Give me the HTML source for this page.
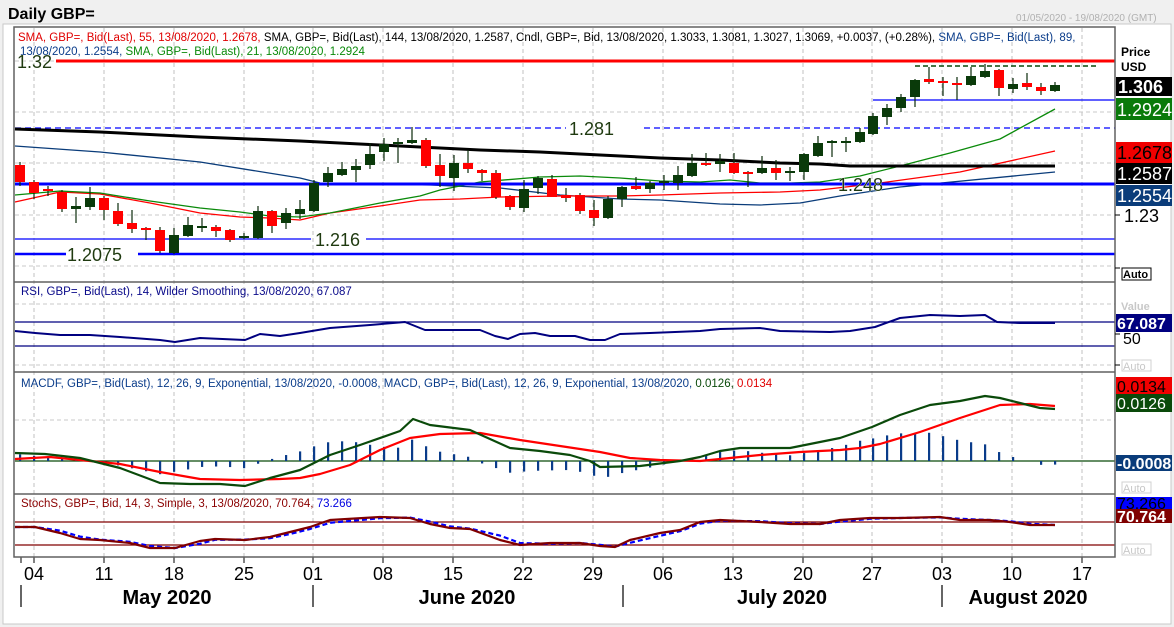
<!DOCTYPE html>
<html><head><meta charset="utf-8"><style>
html,body{margin:0;padding:0;background:#fff;}
svg{display:block;font-family:"Liberation Sans",sans-serif;}
</style></head><body>
<svg id="s" width="1174" height="627" viewBox="0 0 1174 627" xmlns="http://www.w3.org/2000/svg">
<rect x="0" y="0" width="1174" height="627" fill="#f0f0f0"/>
<rect x="3" y="24" width="1168" height="600" fill="#fff" stroke="#c8c8c8"/>
<text x="8" y="19" font-size="16" font-weight="bold" fill="#000">Daily GBP=</text>
<text x="1016" y="21" font-size="10" fill="#b0b0b0">01/05/2020 - 19/08/2020 (GMT)</text>
<g id="grid"></g>
<g id="plot"></g>
<!-- panel frames -->
<g fill="none" stroke="#606060" stroke-width="1.5">
<rect x="14" y="27" width="1101" height="530"/>
<line x1="14" y1="282" x2="1115" y2="282"/>
<line x1="14" y1="372" x2="1115" y2="372"/>
<line x1="14" y1="494" x2="1115" y2="494"/>
</g>
<text font-size="11.5" y="41" x="18"><tspan fill="#e00000">SMA, GBP=, Bid(Last),  55, 13/08/2020, 1.2678, </tspan><tspan fill="#000">SMA, GBP=, Bid(Last),  144, 13/08/2020, 1.2587, Cndl, GBP=, Bid, 13/08/2020, 1.3033, 1.3081, 1.3027, 1.3069, +0.0037, (+0.28%), </tspan><tspan fill="#0a3c8a">SMA, GBP=, Bid(Last), 89,</tspan></text>
<text font-size="11.5" y="55" x="20"><tspan fill="#0a3c8a">13/08/2020, 1.2554, </tspan><tspan fill="#0a8a0a">SMA, GBP=, Bid(Last),  21, 13/08/2020, 1.2924</tspan></text>
<text font-size="11.5" y="295" x="21" fill="#0a0a8a">RSI, GBP=, Bid(Last),  14, Wilder Smoothing, 13/08/2020, 67.087</text>
<text font-size="11.5" y="387" x="21"><tspan fill="#0a3c8a">MACDF, GBP=, Bid(Last),  12, 26, 9, Exponential, 13/08/2020, -0.0008, MACD, GBP=, Bid(Last),  12, 26, 9, Exponential, 13/08/2020, </tspan><tspan fill="#0a4a0a">0.0126, </tspan><tspan fill="#e00000">0.0134</tspan></text>
<text font-size="11.5" y="507" x="21"><tspan fill="#8a0000">StochS, GBP=, Bid,  14, 3, Simple, 3, 13/08/2020, 70.764, </tspan><tspan fill="#0000e0">73.266</tspan></text>
<!-- price labels on chart -->
<g font-size="18" fill="#1f3a10" stroke="#fff" stroke-width="0.6" paint-order="stroke">
<text x="17" y="68">1.32</text>
<text x="569" y="135">1.281</text>
<text x="838" y="191">1.248</text>
<text x="315" y="246">1.216</text>
<text x="67" y="261">1.2075</text>
</g>
<!-- right axis -->
<g font-family="Liberation Sans" >
<text x="1121" y="56" font-size="12" font-weight="bold">Price</text>
<text x="1121" y="71" font-size="12" font-weight="bold">USD</text>
<rect x="1116" y="77" width="56" height="19" fill="#000"/><text x="1118" y="93" font-size="18" font-weight="bold" fill="#fff">1.306</text>
<rect x="1116" y="98" width="56" height="22" fill="#0a7a0a"/><text x="1117" y="116" font-size="18" fill="#fff">1.2924</text>
<rect x="1116" y="142" width="56" height="21" fill="#f00000"/><text x="1117" y="159" font-size="18" fill="#000">1.2678</text>
<rect x="1116" y="163" width="56" height="21" fill="#000"/><text x="1117" y="180" font-size="18" fill="#fff">1.2587</text>
<rect x="1116" y="185" width="56" height="21" fill="#0a3c7a"/><text x="1117" y="202" font-size="18" fill="#fff">1.2554</text>
<line x1="1115" y1="215" x2="1120" y2="215" stroke="#000"/><text x="1124" y="222" font-size="18">1.23</text>
<line x1="1115" y1="268" x2="1120" y2="268" stroke="#000"/>
<rect x="1122" y="268" width="29" height="12" fill="#fff" stroke="#000"/><text x="1123" y="278" font-size="11" font-weight="bold">Auto</text>
<text x="1121" y="310" font-size="11" font-weight="bold" fill="#c8c8c8">Value</text>
<rect x="1116" y="314" width="56" height="18" fill="#000080"/><text x="1117" y="329" font-size="16" font-weight="bold" fill="#fff">67.087</text>
<line x1="1115" y1="334" x2="1120" y2="334" stroke="#000"/><text x="1123" y="344" font-size="16">50</text>
<line x1="1115" y1="365" x2="1120" y2="365" stroke="#000"/>
<rect x="1122" y="360" width="29" height="11" fill="#fff" stroke="#d0d0d0"/><text x="1123" y="370" font-size="11" fill="#c8c8c8">Auto</text>
<rect x="1116" y="377" width="56" height="17" fill="#f00000"/><text x="1117" y="392" font-size="16" fill="#000">0.0134</text>
<rect x="1116" y="394" width="56" height="18" fill="#0a4a0a"/><text x="1117" y="409" font-size="16" fill="#fff">0.0126</text>
<rect x="1116" y="455" width="56" height="16" fill="#0a3c7a"/><text x="1117" y="469" font-size="16" font-weight="bold" fill="#fff">-0.0008</text>
<rect x="1122" y="482" width="29" height="11" fill="#fff" stroke="#d0d0d0"/><text x="1123" y="492" font-size="11" fill="#c8c8c8">Auto</text>
<rect x="1116" y="497" width="56" height="12" fill="#0000ff"/><text x="1117" y="509" font-size="16" fill="#000">73.266</text>
<rect x="1116" y="509" width="56" height="14" fill="#800000"/><text x="1117" y="522" font-size="16" font-weight="bold" fill="#fff">70.764</text>
<rect x="1122" y="544" width="29" height="11" fill="#fff" stroke="#d0d0d0"/><text x="1123" y="554" font-size="11" fill="#c8c8c8">Auto</text>
</g>
<!-- date axis -->
<g font-size="18" fill="#000" text-anchor="middle">
<text x="34" y="580">04</text><text x="104" y="580">11</text><text x="174" y="580">18</text><text x="244" y="580">25</text>
<text x="313" y="580">01</text><text x="383" y="580">08</text><text x="453" y="580">15</text><text x="523" y="580">22</text>
<text x="593" y="580">29</text><text x="663" y="580">06</text><text x="733" y="580">13</text><text x="803" y="580">20</text>
<text x="872" y="580">27</text><text x="942" y="580">03</text><text x="1012" y="580">10</text><text x="1082" y="580">17</text>
</g>
<g font-size="20" font-weight="bold" fill="#000" text-anchor="middle">
<text x="167" y="604">May 2020</text><text x="467" y="604">June 2020</text><text x="782" y="604">July 2020</text><text x="1028" y="604">August 2020</text>
</g>
<g stroke="#000" stroke-width="1.2">
<line x1="21" y1="585" x2="21" y2="607"/><line x1="313" y1="585" x2="313" y2="607"/><line x1="623" y1="585" x2="623" y2="607"/><line x1="942" y1="585" x2="942" y2="607"/>
</g>
</svg>
<script>
const NS="http://www.w3.org/2000/svg";
const plot=document.getElementById('plot'),grid=document.getElementById('grid');
function el(p,t,a){const e=document.createElementNS(NS,t);for(const k in a)e.setAttribute(k,a[k]);p.appendChild(e);return e;}
function line(p,x1,y1,x2,y2,c,w,d){const a={x1,y1,x2,y2,stroke:c,'stroke-width':w||1};if(d)a['stroke-dasharray']=d;return el(p,'line',a);}
function poly(pts,c,w,d){const a={points:pts.map(q=>q.join(',')).join(' '),fill:'none',stroke:c,'stroke-width':w||1,'stroke-linejoin':'round'};if(d)a['stroke-dasharray']=d;el(plot,'polyline',a);}
// grid
const gx=[34,104,174,244,313,383,453,523,593,663,733,803,872,942,1012,1082];
gx.forEach(x=>line(grid,x,28,x,557,'#c0c0c0',1,'4,3'));
[61,112,163,215,266,304,365,420].forEach(y=>line(grid,15,y,1115,y,'#c8c8c8',1,'4,3'));
gx.concat([21]).forEach(x=>line(grid,x,557,x,563,'#000',1));
// main horizontal lines
line(plot,56,61,1115,61,'#ff0000',3);
line(plot,915,66,1096,66,'#0a4a0a',1.5,'5,3');
line(plot,873,100,1115,100,'#0000ff',1.2);
line(plot,15,128,566,128,'#0000ff',1.2,'6,4');line(plot,644,128,1115,128,'#0000ff',1.2,'6,4');
line(plot,15,239,311,239,'#0000ff',1.2);line(plot,366,239,1115,239,'#0000ff',1.2);
line(plot,15,254,66,254,'#0000ff',2.5);line(plot,138,254,1115,254,'#0000ff',2.5);
// MAs
poly([[15,146],[100,152],[200,162],[300,178],[320,183],[370,184],[430,185],[500,188],[560,195],[620,199],[660,200],[720,204],[760,205],[800,203],[840,196],[900,187],[1055,172]],'#0a3c7a',1.3);
poly([[15,202],[60,192],[100,194],[150,203],[200,213],[240,217],[270,218],[300,220],[330,213],[380,206],[420,200],[460,199],[500,197],[560,196],[620,196],[660,195],[720,193],[780,192],[820,190],[880,183],[960,172],[1055,151]],'#ff0000',1.3);
poly([[15,195],[60,191],[100,193],[150,201],[200,208],[240,212],[270,216],[300,217],[330,213],[380,203],[420,196],[440,190],[480,182],[540,177],[580,176],[620,178],[660,181],[700,182],[730,180],[760,183],[790,183],[820,182],[860,176],[900,166],[950,153],[1000,139],[1055,109]],'#0a8a0a',1.3);
poly([[15,129],[100,132],[200,137],[300,141],[420,147],[480,150],[540,152],[600,155],[660,158],[720,160],[780,163],[820,164],[850,166],[1055,166]],'#000',3);
line(plot,15,184,1115,184,'#0000ff',3);
// candles: x, open, close, high, low (pixel y)
const C=[[20,165,182,162,186],[34,182,193,180,199],[48,190,191,186,196],[62,192,209,190,212],[76,209,206,197,223],[90,207,198,187,210],[104,198,210,196,220],[118,211,224,203,226],[132,223,229,210,233],[146,228,230,227,240],[160,230,251,227,253],[174,253,235,228,254],[188,236,225,217,237],[202,227,227,218,232],[216,227,231,225,237],[230,230,240,229,242],[244,237,237,233,239],[258,238,211,206,239],[272,211,226,210,233],[286,223,213,208,229],[300,214,209,200,219],[314,211,183,180,212],[328,182,173,167,187],[342,175,169,162,176],[356,170,166,159,182],[370,165,154,143,169],[384,152,144,138,161],[398,144,142,138,163],[412,143,140,127,144],[426,140,166,138,168],[440,165,176,154,187],[454,178,163,155,191],[468,163,169,150,173],[482,170,173,169,181],[496,173,197,170,199],[510,196,207,195,210],[524,208,189,180,212],[538,188,178,176,194],[552,179,197,175,197],[566,195,198,188,202],[580,195,211,193,214],[594,210,218,200,226],[608,218,199,196,219],[622,199,187,186,207],[636,186,189,177,190],[650,189,183,181,193],[664,182,182,175,190],[678,183,175,166,190],[692,176,163,154,177],[706,163,165,153,166],[720,164,161,154,172],[734,163,173,153,174],[748,172,174,171,187],[762,173,168,156,174],[776,168,173,160,180],[790,173,171,167,181],[804,172,154,153,180],[818,156,143,136,157],[832,142,142,140,157],[846,142,142,137,152],[860,142,132,128,143],[873,134,116,113,135],[887,117,108,104,125],[901,108,97,94,112],[915,97,80,79,107],[929,79,82,67,84],[943,82,83,77,96],[957,83,85,77,100],[971,85,76,67,86],[985,77,71,64,78],[999,70,88,69,96],[1013,89,84,78,93],[1027,83,87,73,90],[1041,87,91,83,95],[1055,91,85,82,92]];
C.forEach(([x,o,c,h,l])=>{const col=c<o?'#0a3a0a':(c>o?'#ff0000':'#0a3a0a');
 line(plot,x,h,x,l,'#0a2a0a',1.2);
 const t=Math.min(o,c),b=Math.max(o,c);
 if(b-t<1.5){line(plot,x-5,t,x+5,t,col,2);} else el(plot,'rect',{x:x-5,y:t,width:10,height:b-t,fill:col});});
// RSI
line(plot,15,322,1115,322,'#000080',1.2);line(plot,15,346,1115,346,'#000080',1.2);
poly([[15,331],[35,333],[60,335],[90,335],[120,337],[160,340],[175,342],[200,338],[245,340],[260,334],[280,336],[300,333],[330,328],[370,325],[405,322],[425,330],[440,330],[480,330],[495,336],[508,339],[520,334],[535,333],[550,336],[575,336],[590,340],[605,340],[620,334],[650,333],[700,331],[720,329],[760,328],[780,331],[830,332],[850,331],[875,327],[900,318],[930,315],[960,316],[985,315],[997,322],[1020,323],[1055,323]],'#000080',2);
// MACD
const G=[[15,453],[45,454],[80,458],[120,468],[160,483],[190,484],[220,484],[245,486],[270,478],[300,470],[330,455],[360,445],[400,431],[413,419],[430,425],[470,430],[510,448],[540,451],[570,455],[590,461],[600,467],[640,466],[680,461],[700,457],[720,451],[740,448],[790,448],[800,446],[840,438],[872,427],[900,415],[930,405],[960,401],[985,396],[1000,398],[1020,403],[1040,408],[1055,409]];
const R=[[15,459],[50,457],[80,460],[120,464],[160,472],[200,479],[240,480],[280,479],[300,478],[320,474],[350,465],[380,450],[410,438],[440,434],[480,433],[520,440],[560,446],[600,452],[630,458],[660,460],[700,461],[720,459],[760,455],[800,452],[840,450],[860,448],[880,444],[920,432],[960,418],[1000,405],[1030,404],[1055,406]];
function interp(P,x){for(let i=0;i<P.length-1;i++){if(x>=P[i][0]&&x<=P[i+1][0]){const f=(x-P[i][0])/(P[i+1][0]-P[i][0]);return P[i][1]+f*(P[i+1][1]-P[i][1]);}}return P[P.length-1][1];}
line(plot,15,461,1115,461,'#0a4a0a',1.2);
C.forEach(([x])=>{const h=(interp(R,x)-interp(G,x))*1.2;if(Math.abs(h)>0.8)el(plot,'rect',{x:x-1,y:h>0?461-h:461,width:2.2,height:Math.abs(h),fill:'#0a3c8a'});});
poly(R,'#ff0000',2.2);poly(G,'#0a4a0a',2.2);
// Stoch
line(plot,15,522,1115,522,'#800000',1.2);line(plot,15,545,1115,545,'#800000',1.2);
const K=[[15,527],[35,527],[60,533],[80,539],[100,540],[130,543],[150,548],[175,548],[200,541],[215,539],[245,540],[270,537],[290,532],[310,527],[330,520],[380,517],[410,518],[430,524],[450,528],[470,529],[500,540],[520,545],[550,543],[580,543],[600,546],[615,547],[630,540],[660,533],[680,530],[690,526],[700,522],[720,520],[760,522],[790,524],[820,524],[840,520],[870,518],[900,518],[940,517],[960,520],[990,520],[1010,522],[1030,525],[1055,525]];
const D=K.map(([x,y],i)=>[x,i>0?(y*0.6+K[i-1][1]*0.4):y]);
poly(D,'#0000ff',2.2,'5,3');poly(K,'#800000',2.2);
</script>
</body></html>
